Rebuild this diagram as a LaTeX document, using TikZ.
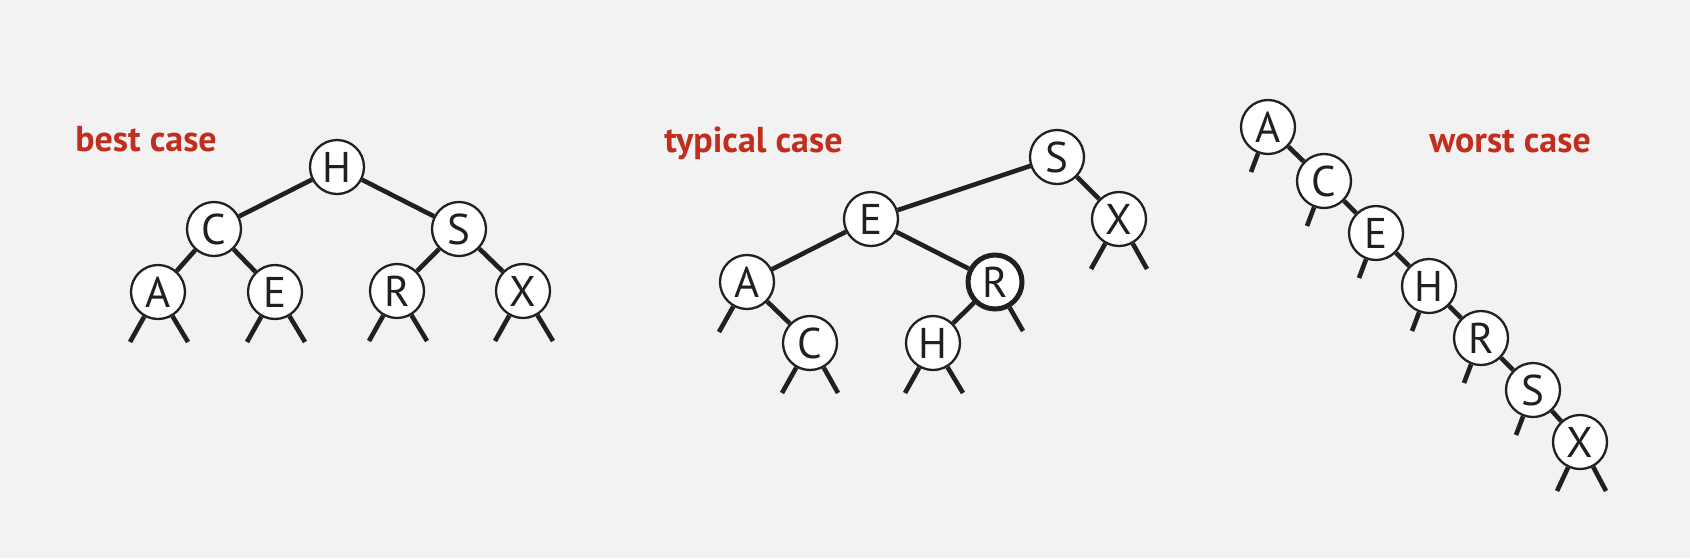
\documentclass[tikz,border=0pt]{standalone}
\usepackage{fontspec}
\setmainfont{PT Sans}
\usepackage{xcolor}
\definecolor{ink}{HTML}{231F20}
\definecolor{casered}{RGB}{194,46,30}
\definecolor{paper}{HTML}{F2F2F2}

\begin{document}
\begin{tikzpicture}[x=0.5pt,y=-0.5pt,
	key/.style={circle,draw=ink,fill=white,line width=1.15pt,minimum size=27pt,inner sep=0pt,text=ink,font=\fontsize{21.5}{21.5}\selectfont},
	heavy/.style={line width=2.5pt},
	link/.style={draw=ink,line width=2.3pt},
	title/.style={anchor=base west,inner sep=0pt,text=casered,font=\bfseries\fontsize{18}{18}\selectfont}]

	% background
	\fill[paper] (0,0) rectangle (1690,558);

	% best case
	\node[title] (bestlbl) at (75,151) {best case};
	\node[key] (bH) at (337,167) {H};
	\node[key] (bC) at (214,229) {C};
	\node[key] (bS) at (459,229) {S};
	\node[key] (bA) at (158,292) {A};
	\node[key] (bE) at (275,292) {E};
	\node[key] (bR) at (397,291) {R};
	\node[key] (bX) at (523,291) {X};

	\draw[link] (bH) -- (bC);
	\draw[link] (bH) -- (bS);
	\draw[link] (bC) -- (bA);
	\draw[link] (bC) -- (bE);
	\draw[link] (bS) -- (bR);
	\draw[link] (bS) -- (bX);

	% null links
	\draw[link] (bA) -- ++(-28,50);
	\draw[link] (bA) -- ++(30,50);
	\draw[link] (bE) -- ++(-28,50);
	\draw[link] (bE) -- ++(30,50);
	\draw[link] (bR) -- ++(-28,50);
	\draw[link] (bR) -- ++(30,50);
	\draw[link] (bX) -- ++(-28,50);
	\draw[link] (bX) -- ++(30,50);

	% typical case
	\node[title] (typlbl) at (664,152) {typical case};
	\node[key] (tS) at (1057,157) {S};
	\node[key] (tE) at (871,219) {E};
	\node[key] (tX) at (1119,219) {X};
	\node[key] (tA) at (747,282) {A};
	\node[key,heavy] (tR) at (995,282) {R};
	\node[key] (tC) at (810,343) {C};
	\node[key] (tH) at (933,343) {H};

	\draw[link] (tS) -- (tE);
	\draw[link] (tS) -- (tX);
	\draw[link] (tE) -- (tA);
	\draw[link] (tE) -- (tR);
	\draw[link] (tA) -- (tC);
	\draw[link] (tR) -- (tH);

	% null links
	\draw[link] (tX) -- ++(-28,50);
	\draw[link] (tX) -- ++(28,50);
	\draw[link] (tA) -- ++(-28,50);
	\draw[link] (tR) -- ++(28,49);
	\draw[link] (tC) -- ++(-28,50);
	\draw[link] (tC) -- ++(28,50);
	\draw[link] (tH) -- ++(-28,50);
	\draw[link] (tH) -- ++(30,50);

	% worst case
	\node[title] (worstlbl) at (1429,152) {worst case};
	\node[key] (wA) at (1268,127) {A};
	\node[key] (wC) at (1324,181) {C};
	\node[key] (wE) at (1376,233) {E};
	\node[key] (wH) at (1429,286) {H};
	\node[key] (wR) at (1481,338) {R};
	\node[key] (wS) at (1533,390) {S};
	\node[key] (wX) at (1580,442) {X};

	\draw[link] (wA) -- (wC);
	\draw[link] (wC) -- (wE);
	\draw[link] (wE) -- (wH);
	\draw[link] (wH) -- (wR);
	\draw[link] (wR) -- (wS);
	\draw[link] (wS) -- (wX);

	% null links
	\draw[link] (wA) -- ++(-17,45);
	\draw[link] (wC) -- ++(-17,45);
	\draw[link] (wE) -- ++(-17,45);
	\draw[link] (wH) -- ++(-17,45);
	\draw[link] (wR) -- ++(-17,45);
	\draw[link] (wS) -- ++(-17,45);
	\draw[link] (wX) -- ++(-23,49);
	\draw[link] (wX) -- ++(26,49);

\end{tikzpicture}
\end{document}
